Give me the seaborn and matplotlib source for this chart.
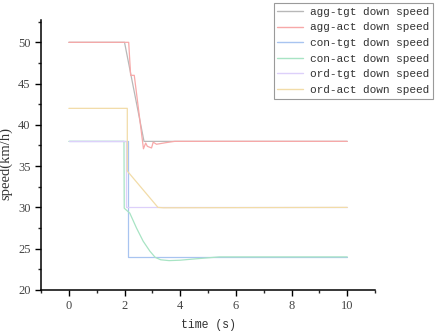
import numpy as np
import pandas as pd
import matplotlib
matplotlib.use("Agg")
import matplotlib.pyplot as plt
import seaborn as sns
from matplotlib.ticker import MultipleLocator

# ---- data ----
agg_tgt_t = [0, 2.0, 2.7, 10]
agg_tgt_v = [50, 50, 38, 38]

agg_act_t = [0, 2.15, 2.22, 2.35, 2.68, 2.76, 2.82, 2.97, 3.03, 3.15, 3.5, 3.8, 10]
agg_act_v = [50, 50, 46, 46, 37.1, 37.8, 37.4, 37.2, 37.9, 37.65, 37.85, 38, 38]

con_tgt_t = [0, 2.12, 2.12, 10]
con_tgt_v = [38, 38, 24, 24]

con_act_t = [0, 1.98, 1.99, 2.19, 2.43, 2.67, 2.91, 3.1, 3.3, 3.6, 4.0, 4.5, 5.4, 10]
con_act_v = [38, 38, 29.9, 29.3, 27.5, 25.9, 24.7, 23.95, 23.65, 23.55, 23.6, 23.75, 24.0, 24.0]

ord_tgt_t = [0, 2.07, 2.07, 10]
ord_tgt_v = [38, 38, 30, 30]

ord_act_t = [0, 2.1, 2.1, 3.2, 3.4, 10]
ord_act_v = [42, 42, 34.4, 30, 29.95, 30]

labels = ["agg-tgt down speed", "agg-act down speed", "con-tgt down speed",
          "con-act down speed", "ord-tgt down speed", "ord-act down speed"]
colors = ["#b8b8b8", "#f7a8a8", "#a8c4f0", "#a8e4c4", "#ddd0fa", "#f2dca8"]

series = [(agg_tgt_t, agg_tgt_v), (agg_act_t, agg_act_v), (con_tgt_t, con_tgt_v),
          (con_act_t, con_act_v), (ord_tgt_t, ord_tgt_v), (ord_act_t, ord_act_v)]

frames = []
for lab, (t, v) in zip(labels, series):
    frames.append(pd.DataFrame({"t": t, "v": v, "series": lab}))
df = pd.concat(frames, ignore_index=True)

sns.set_style("ticks")
plt.rcParams["font.family"] = ["Liberation Serif", "DejaVu Serif"]

fig = plt.figure(figsize=(4.39, 3.34), dpi=100)
ax = fig.add_axes([0.0934, 0.132, 0.761, 0.808])

sns.lineplot(data=df, x="t", y="v", hue="series", hue_order=labels,
             palette=dict(zip(labels, colors)), estimator=None, sort=False,
             units="series", linewidth=0.9, ax=ax, legend=True)

ax.set_xlim(-1, 11)
ax.set_ylim(20, 52.7)
ax.xaxis.set_major_locator(MultipleLocator(2))
ax.xaxis.set_minor_locator(MultipleLocator(1))
ax.yaxis.set_major_locator(MultipleLocator(5))
ax.yaxis.set_minor_locator(MultipleLocator(2.5))
ax.tick_params(which="major", direction="out", length=4, width=1, labelsize=9, colors="black")
ax.tick_params(which="minor", direction="out", length=2.5, width=1)
for lbl in ax.get_xticklabels() + ax.get_yticklabels():
    lbl.set_color("#444444")
for s in ["top", "right"]:
    ax.spines[s].set_visible(False)
for s in ["left", "bottom"]:
    ax.spines[s].set_linewidth(1.1)
    ax.spines[s].set_color("black")

ax.set_xlabel("time (s)", fontsize=8.3, family=["Liberation Mono", "DejaVu Sans Mono"],
              color="#333333", labelpad=5)
ax.set_ylabel("speed(km/h)", fontsize=10.5, color="#333333")
ax.yaxis.set_label_coords(-0.086, 0.47)

handles, labs = ax.get_legend_handles_labels()
leg = ax.legend(handles, labs, loc="upper right", bbox_to_anchor=(0.986, 0.991),
                bbox_transform=fig.transFigure, frameon=True, fancybox=False,
                edgecolor="#9a9a9a", framealpha=1, borderpad=0.35, labelspacing=0.5,
                handlelength=2.3, handletextpad=0.6, borderaxespad=0,
                prop={"family": ["Liberation Mono", "DejaVu Sans Mono"], "size": 8.0})
leg.get_frame().set_linewidth(0.8)
for txt in leg.get_texts():
    txt.set_color("#333333")
for line in leg.get_lines():
    line.set_linewidth(1.0)

fig.savefig("out.png", dpi=100)
